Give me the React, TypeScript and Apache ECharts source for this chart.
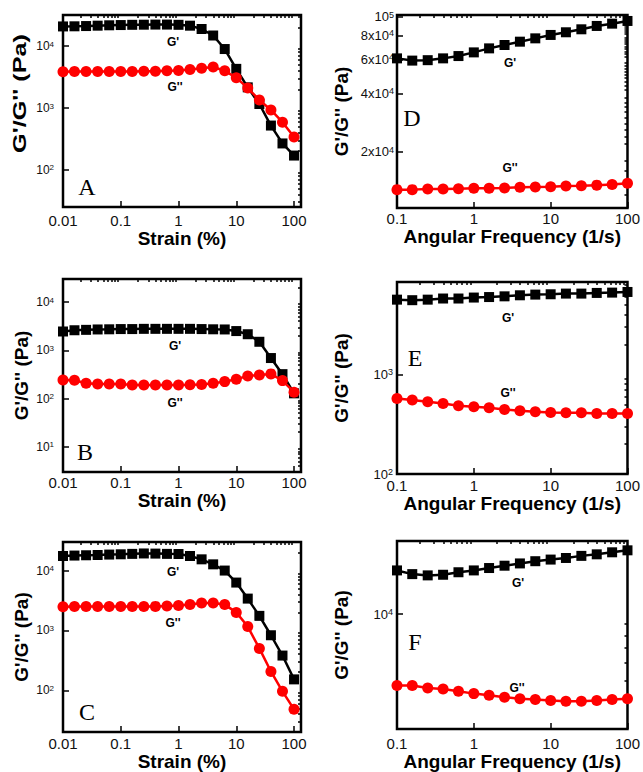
import React, { useEffect, useRef } from "react";
import * as echarts from "echarts";

// ---------- data ----------
const strainX = [0.01, 0.0158, 0.0251, 0.0398, 0.0631, 0.1, 0.158, 0.251, 0.398, 0.631, 1, 1.58, 2.51, 3.98, 6.31, 10, 15.8, 25.1, 39.8, 63.1, 100];
const freqX = [0.1, 0.158, 0.251, 0.398, 0.631, 1, 1.58, 2.51, 3.98, 6.31, 10, 15.8, 25.1, 39.8, 63.1, 100];

const aStorage = [20900, 21000, 21200, 21500, 21800, 22000, 22200, 22300, 22400, 22400, 22200, 21500, 19000, 14900, 9000, 4300, 2160, 1160, 520, 267, 170];
const aLoss = [3850, 3900, 3900, 3900, 3900, 3900, 3900, 3950, 3950, 4000, 4050, 4200, 4400, 4600, 4000, 3100, 2100, 1350, 930, 590, 340];

const bStorage = [2450, 2600, 2650, 2700, 2720, 2750, 2750, 2780, 2780, 2780, 2780, 2780, 2750, 2720, 2700, 2500, 2150, 1500, 690, 320, 128];
const bLoss = [243, 240, 207, 200, 200, 200, 191, 190, 190, 190, 190, 192, 195, 207, 224, 251, 294, 308, 324, 235, 135];

const cStorage = [17500, 17800, 18000, 18200, 18500, 18700, 19000, 19300, 19200, 19000, 18900, 17500, 15400, 12700, 10000, 6300, 3400, 1750, 830, 380, 152];
const cLoss = [2480, 2500, 2500, 2500, 2500, 2500, 2500, 2500, 2520, 2550, 2600, 2700, 2880, 2880, 2700, 2000, 1160, 500, 206, 96, 48];

const dStorage = [60800, 59200, 59500, 60800, 62500, 65300, 68500, 71300, 74200, 77200, 80400, 83000, 86000, 89500, 92000, 95000];
const dLoss = [12700, 12700, 12800, 12800, 12850, 12900, 12900, 12950, 13050, 13100, 13150, 13250, 13300, 13400, 13500, 13700];

const eStorage = [5650, 5580, 5650, 5800, 5800, 5930, 6000, 6100, 6250, 6350, 6400, 6500, 6500, 6600, 6650, 6750];
const eLoss = [574, 553, 532, 512, 485, 474, 463, 445, 433, 422, 416, 412, 412, 406, 406, 406];

const fStorage = [15800, 15200, 15000, 15100, 15500, 15800, 16200, 16600, 17000, 17400, 17700, 18000, 18400, 18700, 19100, 19500];
const fLoss = [4740, 4740, 4610, 4560, 4460, 4350, 4280, 4190, 4120, 4090, 4050, 4020, 4020, 4050, 4090, 4120];

// tick labels
const strainTicks = [0.01, 0.1, 1, 10, 100];
const freqTicks = [0.1, 1, 10, 100];
const aYTicks = [100, 1000, 10000];
const bYTicks = [10, 100, 1000, 10000];
const cYTicks = [100, 1000, 10000];
const dYTicks = [20000, 40000, 60000, 80000, 100000];
const eYTicks = [100, 1000];
const fYTicks = [10000];

const panelLetters = ["A", "B", "C", "D", "E", "F"];
const strainTitle = "Strain (%)";
const freqTitle = "Angular Frequency (1/s)";
const yTitle = "G'/G'' (Pa)";
const storageLabel = "G'";
const lossLabel = "G''";

// ---------- helpers ----------
const SANS = "'Liberation Sans', Arial, Helvetica, sans-serif";
const SERIF = "'Liberation Serif', 'Times New Roman', serif";

function minorLog(min: number, max: number): number[] {
  const out: number[] = [];
  for (let e = Math.floor(Math.log10(min)); e <= Math.ceil(Math.log10(max)); e++) {
    for (let k = 2; k <= 9; k++) {
      const v = Number((k * Math.pow(10, e)).toPrecision(3));
      if (v > min * 1.0001 && v < max * 0.9999) out.push(v);
    }
  }
  return out;
}

function minorStep(min: number, max: number, step: number, skip: number[]): number[] {
  const out: number[] = [];
  for (let v = Math.ceil(min / step) * step; v < max; v += step) {
    if (!skip.includes(v)) out.push(v);
  }
  return out;
}

function xFmt(v: number) {
  return String(Number(Number(v).toPrecision(2)));
}

function yFmt(v: number) {
  const e = Math.floor(Math.log10(v) + 1e-9);
  const m = Math.round(v / Math.pow(10, e));
  return m === 1 ? `{b|10}{s|${e}}` : `{b|${m}x10}{s|${e}}`;
}

type Panel = {
  x: number[];
  gp: number[];
  gpp: number[];
  xMin: number;
  xMax: number;
  yMin: number;
  yMax: number;
  xTicks: number[];
  yTicks: number[];
  yMinor: number[];
  xTitle: string;
  box: { left: number; top: number; width: number; height: number };
  xNameGap: number;
  xLabelMargin: number;
  yLabelMargin: number;
  yLabelSize: number;
  yNameGap: number;
  // when set, the y title is drawn as a free (stretched) text at this spot
  yTitleFree: number[] | null;
  letterPos: number[];
  gpPos: number[];
  gppPos: number[];
};

const panels: Panel[] = [
  {
    x: strainX, gp: aStorage, gpp: aLoss, xMin: 0.01, xMax: 132, yMin: 25, yMax: 32000,
    xTicks: strainTicks, yTicks: aYTicks, yMinor: minorLog(25, 32000), xTitle: strainTitle,
    box: { left: 63, top: 15, width: 238, height: 192 },
    xNameGap: 20, xLabelMargin: 6, yLabelMargin: 9, yLabelSize: 12, yNameGap: 32, yTitleFree: [20, 93.5],
    letterPos: [87, 187], gpPos: [173, 42], gppPos: [175, 87],
  },
  {
    x: strainX, gp: bStorage, gpp: bLoss, xMin: 0.01, xMax: 132, yMin: 3, yMax: 30000,
    xTicks: strainTicks, yTicks: bYTicks, yMinor: minorLog(3, 30000), xTitle: strainTitle,
    box: { left: 63, top: 279, width: 238, height: 193 },
    xNameGap: 17, xLabelMargin: 3, yLabelMargin: 9, yLabelSize: 12, yNameGap: 32, yTitleFree: null,
    letterPos: [85, 452], gpPos: [175, 346], gppPos: [175, 403],
  },
  {
    x: strainX, gp: cStorage, gpp: cLoss, xMin: 0.01, xMax: 132, yMin: 20, yMax: 30000,
    xTicks: strainTicks, yTicks: cYTicks, yMinor: minorLog(20, 30000), xTitle: strainTitle,
    box: { left: 63, top: 542, width: 238, height: 191 },
    xNameGap: 16, xLabelMargin: 4, yLabelMargin: 9, yLabelSize: 12, yNameGap: 32, yTitleFree: null,
    letterPos: [87, 712], gpPos: [173, 572], gppPos: [173, 623],
  },
  {
    x: freqX, gp: dStorage, gpp: dLoss, xMin: 0.1, xMax: 100, yMin: 10200, yMax: 102000,
    xTicks: freqTicks, yTicks: dYTicks, yMinor: minorStep(10200, 102000, 2000, dYTicks), xTitle: freqTitle,
    box: { left: 397, top: 15, width: 236, height: 193 },
    xNameGap: 19, xLabelMargin: 3, yLabelMargin: 3, yLabelSize: 13, yNameGap: 46, yTitleFree: null,
    letterPos: [412, 118], gpPos: [510, 63], gppPos: [510, 168],
  },
  {
    x: freqX, gp: eStorage, gpp: eLoss, xMin: 0.1, xMax: 100, yMin: 100, yMax: 8500,
    xTicks: freqTicks, yTicks: eYTicks, yMinor: minorLog(100, 8500), xTitle: freqTitle,
    box: { left: 397, top: 282, width: 236, height: 192 },
    xNameGap: 17, xLabelMargin: 4, yLabelMargin: 4, yLabelSize: 13, yNameGap: 46, yTitleFree: null,
    letterPos: [415, 358], gpPos: [508, 318], gppPos: [508, 393],
  },
  {
    x: freqX, gp: fStorage, gpp: fLoss, xMin: 0.1, xMax: 100, yMin: 3000, yMax: 21500,
    xTicks: freqTicks, yTicks: fYTicks, yMinor: minorLog(3000, 21500), xTitle: freqTitle,
    box: { left: 397, top: 541, width: 236, height: 192 },
    xNameGap: 17, xLabelMargin: 7, yLabelMargin: 4, yLabelSize: 13, yNameGap: 46, yTitleFree: null,
    letterPos: [415, 642], gpPos: [518, 583], gppPos: [517, 688],
  },
];

function buildOption() {
  const grid: any[] = [];
  const xAxis: any[] = [];
  const yAxis: any[] = [];
  const series: any[] = [];
  const graphic: any[] = [];

  panels.forEach((p, i) => {
    grid.push({
      ...p.box,
      show: true,
      borderColor: "#000",
      borderWidth: 2.5,
      backgroundColor: "transparent",
    });
    const xMinor = minorLog(p.xMin, p.xMax);
    const fs = p.yLabelSize;
    // major x axis
    xAxis.push({
      type: "log",
      logBase: 10,
      gridIndex: i,
      min: p.xMin,
      max: p.xMax,
      axisLine: { show: false },
      splitLine: { show: false },
      axisTick: { show: true, inside: true, length: 6, customValues: p.xTicks, lineStyle: { color: "#000", width: 1.5 } },
      axisLabel: {
        customValues: p.xTicks,
        formatter: xFmt,
        margin: p.xLabelMargin,
        fontSize: 15,
        fontFamily: SANS,
        color: "#111",
        showMinLabel: true,
        showMaxLabel: true,
        hideOverlap: false,
      },
      name: p.xTitle,
      nameLocation: "middle",
      nameGap: p.xNameGap,
      nameTextStyle: { fontSize: 19, fontWeight: "bold", fontFamily: SANS, color: "#000" },
    });
    // minor x axis
    xAxis.push({
      type: "log",
      logBase: 10,
      gridIndex: i,
      min: p.xMin,
      max: p.xMax,
      axisLine: { show: false },
      splitLine: { show: false },
      axisLabel: { show: false },
      axisTick: { show: true, inside: true, length: 3, customValues: xMinor, lineStyle: { color: "#000", width: 1.5 } },
    });
    // major y axis
    yAxis.push({
      type: "log",
      logBase: 10,
      gridIndex: i,
      min: p.yMin,
      max: p.yMax,
      axisLine: { show: false },
      splitLine: { show: false },
      axisTick: { show: true, inside: true, length: 6, customValues: p.yTicks, lineStyle: { color: "#000", width: 1.5 } },
      axisLabel: {
        customValues: p.yTicks,
        formatter: yFmt,
        margin: p.yLabelMargin,
        showMinLabel: true,
        showMaxLabel: true,
        hideOverlap: false,
        rich: {
          b: { fontSize: fs, lineHeight: fs, fontFamily: SANS, color: "#111", verticalAlign: "bottom" },
          s: { fontSize: fs - 4, lineHeight: fs - 4, fontFamily: SANS, color: "#111", verticalAlign: "top", padding: [0, 0, 6, 0] },
        },
      },
      name: p.yTitleFree ? "" : yTitle,
      nameLocation: "middle",
      nameGap: p.yNameGap,
      nameTextStyle: { fontSize: 19, fontWeight: "bold", fontFamily: SANS, color: "#000" },
    });
    // minor y axis
    yAxis.push({
      type: "log",
      logBase: 10,
      gridIndex: i,
      min: p.yMin,
      max: p.yMax,
      axisLine: { show: false },
      splitLine: { show: false },
      axisLabel: { show: false },
      axisTick: { show: true, inside: true, length: 3, customValues: p.yMinor, lineStyle: { color: "#000", width: 1.5 } },
    });

    series.push({
      type: "line",
      name: `${panelLetters[i]} ${storageLabel}`,
      xAxisIndex: 2 * i,
      yAxisIndex: 2 * i,
      data: p.x.map((v, j) => [v, p.gp[j]]),
      symbol: "rect",
      symbolSize: 10,
      clip: false,
      lineStyle: { color: "#000", width: 2.5 },
      itemStyle: { color: "#000" },
      z: 3,
    });
    series.push({
      type: "line",
      name: `${panelLetters[i]} ${lossLabel}`,
      xAxisIndex: 2 * i,
      yAxisIndex: 2 * i,
      data: p.x.map((v, j) => [v, p.gpp[j]]),
      symbol: "circle",
      symbolSize: 11,
      clip: false,
      lineStyle: { color: "#ff0000", width: 2.5 },
      itemStyle: { color: "#ff0000" },
      z: 4,
    });

    if (p.yTitleFree) {
      graphic.push({
        type: "text",
        x: p.yTitleFree[0],
        y: p.yTitleFree[1],
        rotation: Math.PI / 2,
        scaleX: 1.33,
        scaleY: 0.95,
        style: { text: yTitle, font: `bold 19px ${SANS}`, fill: "#000", align: "center", verticalAlign: "middle" },
      });
    }
    graphic.push({
      type: "text",
      x: p.letterPos[0],
      y: p.letterPos[1],
      style: { text: panelLetters[i], font: `24px ${SERIF}`, fill: "#000", align: "center", verticalAlign: "middle" },
    });
    graphic.push({
      type: "text",
      x: p.gpPos[0],
      y: p.gpPos[1],
      style: { text: storageLabel, font: `bold 12px ${SANS}`, fill: "#000", align: "center", verticalAlign: "middle" },
    });
    graphic.push({
      type: "text",
      x: p.gppPos[0],
      y: p.gppPos[1],
      style: { text: lossLabel, font: `bold 12px ${SANS}`, fill: "#000", align: "center", verticalAlign: "middle" },
    });
  });

  return {
    animation: false,
    backgroundColor: "#fff",
    textStyle: { fontFamily: SANS },
    grid,
    xAxis,
    yAxis,
    series,
    graphic,
  };
}

export default function App() {
  const ref = useRef<HTMLDivElement>(null);
  useEffect(() => {
    if (!ref.current) return;
    const chart = echarts.init(ref.current, undefined, { renderer: "svg" });
    chart.setOption(buildOption() as any);
    return () => chart.dispose();
  }, []);
  return (
    <div
      ref={ref}
      style={{ position: "absolute", left: 0, top: 0, width: 643, height: 772, background: "#fff" }}
    />
  );
}
